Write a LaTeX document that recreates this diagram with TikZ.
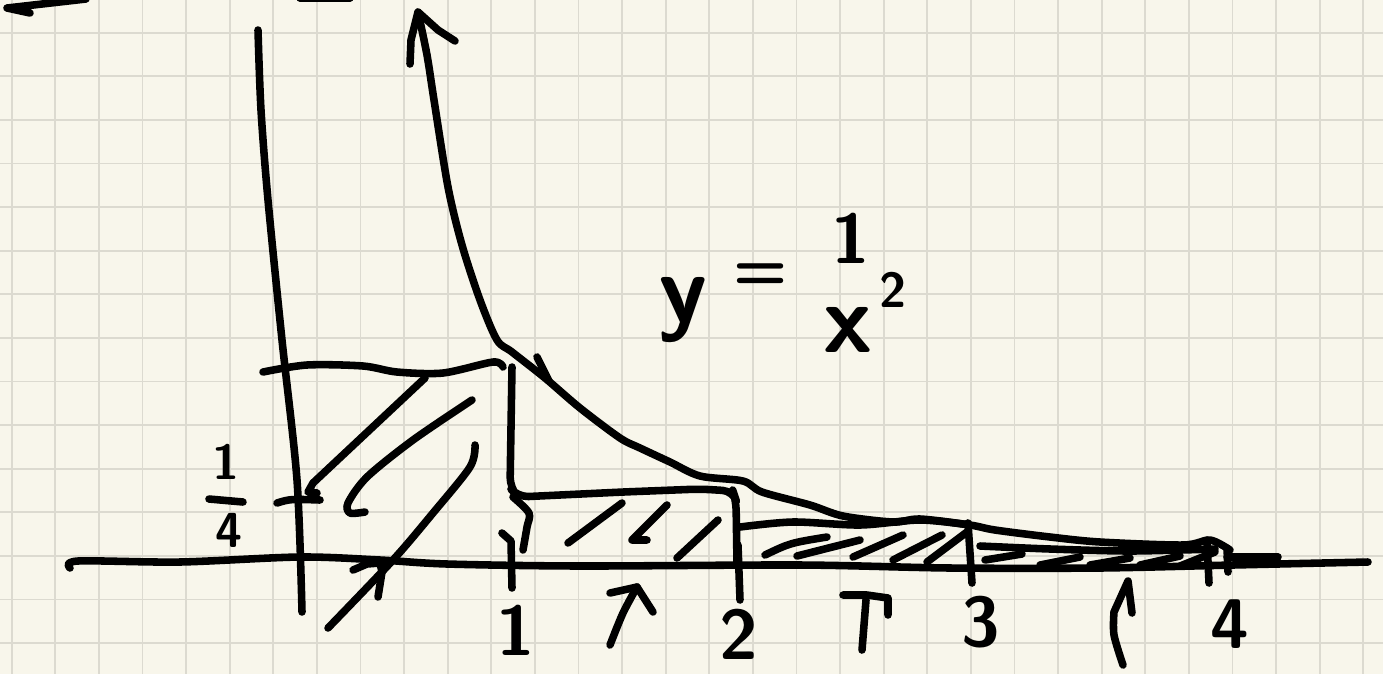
\documentclass[tikz,border=0pt]{standalone}
\usepackage{tikz}
\definecolor{paper}{HTML}{F8F6EB}
\definecolor{gridgray}{HTML}{DCDAD0}

\begin{document}
\begin{tikzpicture}[x=0.02cm, y=-0.02cm,
    pen/.style={line width=4.3pt, line cap=round, line join=round},
    digit/.style={inner sep=0pt, font=\sffamily\bfseries\fontsize{40}{40}\selectfont},
    smalldigit/.style={inner sep=0pt, font=\sffamily\bfseries\fontsize{28}{28}\selectfont},
    bigletter/.style={inner sep=0pt, font=\sffamily\bfseries\fontsize{56}{56}\selectfont}]
    \useasboundingbox (0,0) rectangle (1383,674);
    \fill[paper] (0,0) rectangle (1383,674);
    \clip (0,0) rectangle (1383,674);
    % squared paper
    \foreach \gx in {11.7,55.3,...,1370} \draw[gridgray, line width=1pt] (\gx,0) -- (\gx,674);
    \foreach \gy in {32.7,76.3,...,660} \draw[gridgray, line width=1pt] (0,\gy) -- (1383,\gy);
    % leftovers at the top edge
    \draw[pen] (86,-1) -- (7,8) -- (30,13);
    \draw[pen] (300,-2) -- (350,-2);
    % axes
    \draw[pen] plot[smooth] coordinates {(258,30) (261,110) (268,200) (282,340) (297,480) (302,612)};
    \draw[pen] plot[smooth] coordinates {(70,568) (78,561) (180,562) (300,557) (380,560) (447,564) (580,566) (800,565) (950,568) (1100,568) (1233,565) (1368,562)};
    % the curve and its arrow
    \draw[pen] plot[smooth, tension=0.5] coordinates {(418,12) (427,55) (434,100) (448,187) (462,245) (480,300) (497,340) (512,352) (545,378) (580,408) (620,438) (640,448) (670,462) (700,476) (743,481) (762,492) (810,505) (843,516) (893,522) (920,519) (970,525) (995,530) (1050,537) (1100,542) (1183,545) (1210,540) (1230,550)};
    \draw[pen] (410,64) -- (411,40) -- (418,12) -- (438,30) -- (455,41);
    \draw[pen] (537,357) -- (549,381);
    % box over [0,1]
    \draw[pen] plot[smooth] coordinates {(263,372) (307,365) (363,366) (397,372) (443,373) (493,362) (503,367)};
    \draw[pen] (425,378) -- (313,483) -- (308,492) -- (317,493);
    \draw[pen] plot[smooth] coordinates {(472,400) (413,440) (367,477) (348,503) (350,513) (365,512)};
    \draw[pen] plot[smooth] coordinates {(475,445) (470,467) (433,513) (393,560) (328,628)};
    \draw[pen] (353,570) -- (367,564) -- (380,563) -- (382,572) -- (378,597);
    \draw[pen] (277,503) .. controls (290,499) .. (320,500);
    % box over [1,2]
    \draw[pen, rounded corners=6pt] (512,367) -- (510,488) -- (518,497) -- (623,492) -- (700,489) -- (733,491) -- (736,500) -- (737,563);
    \draw[pen] plot[smooth] coordinates {(513,497) (529,513) (527,527) (523,550)};
    \draw[pen] (502,533) -- (511,541) -- (512,588);
    \draw[pen] (568,543) -- (622,503);
    \draw[pen] (667,505) -- (632,540) -- (647,540);
    \draw[pen] (677,558) -- (718,520);
    \draw[pen] (610,593) -- (637,587) -- (653,612);
    \draw[pen] plot[smooth] coordinates {(637,587) (623,613) (610,645)};
    \draw[pen] (738,545) -- (740,600);
    % box over [2,3]
    \draw[pen] plot[smooth] coordinates {(740,527) (793,522) (860,525) (920,520) (970,525)};
    \draw[pen] (968,523) -- (972,583);
    \draw[pen] (765,555) .. controls (790,543) .. (827,537);
    \draw[pen] (797,556) -- (860,540);
    \draw[pen] (853,557) -- (903,535);
    \draw[pen] (893,560) -- (942,535);
    \draw[pen] (927,562) -- (967,532);
    \draw[pen] (843,595) -- (867,595) -- (888,598) -- (888,615);
    \draw[pen] (866,600) -- (862,650);
    % box over [3,4]
    \draw[pen] plot[smooth] coordinates {(980,546) (1050,549) (1130,551) (1215,549)};
    \draw[pen] (985,560) -- (1022,554);
    \draw[pen] (1040,565) -- (1080,557);
    \draw[pen] (1090,565) -- (1130,558);
    \draw[pen] (1140,565) -- (1180,556);
    \draw[pen] (1180,566) -- (1215,552);
    \draw[pen] (1207,540) -- (1209,583);
    \draw[pen] (1227,548) -- (1228,572);
    \draw[pen] (1227,557) -- (1278,557);
    \draw[pen] plot[smooth] coordinates {(1123,665) (1114,635) (1114,612)} -- (1128,581) -- (1132,613);
    % labels
    \node[digit] (one) at (516,630) {1};
    \node[digit] (two) at (739,634) {2};
    \node[digit] (three) at (981,622) {3};
    \node[digit] (four) at (1230,624) {4};
    \node[smalldigit] (qnum) at (226,462) {1};
    \node[smalldigit] (qden) at (229,530) {4};
    \draw[pen] (209,499) -- (243,502);
    \node[bigletter] (ylab) at (683,310) {y};
    \node[inner sep=0pt, font=\sffamily\bfseries\fontsize{36}{36}\selectfont] (eq) at (761,277) {=};
    \node[digit] (fnum) at (851,238) {1};
    \node[bigletter] (xden) at (848,330) {x};
    \node[smalldigit] (sq) at (893,290) {2};
\end{tikzpicture}
\end{document}
